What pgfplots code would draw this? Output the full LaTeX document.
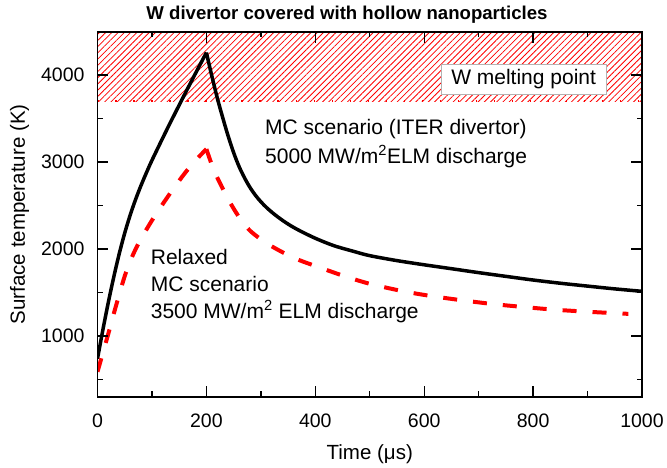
\documentclass[border=0pt]{standalone}
\usepackage{fontspec}
\setmainfont{Liberation Sans}
\usepackage{pgfplots}
\usepackage{pgfplotstable}
\pgfplotsset{compat=1.18}
\usetikzlibrary{patterns.meta}

\pgfplotstableread{
t T
0 740
10 1076
20 1392
30 1683
40 1949
50 2185
60 2391
70 2572
80 2733
90 2881
100 3021
125 3344
150 3656
175 3961
200 4260
}\mcup
\pgfplotstableread{
t T
200 4260
210 3990
222 3690
238 3340
250 3110
260 2950
270 2820
280 2710
290 2620
300 2545
311 2475
325 2400
340 2330
356 2265
372 2210
400 2125
434 2040
470 1975
500 1925
550 1868
600 1820
650 1775
700 1730
750 1687
800 1645
850 1608
900 1575
950 1543
1000 1515
}\mcdown
\pgfplotstableread{
t T
0 590
10 810
20 1030
30 1260
40 1480
50 1690
60 1860
70 2000
80 2120
100 2330
120 2520
140 2700
160 2870
180 3020
200 3150
}\relup
\pgfplotstableread{
t T
200 3150
213 2920
228 2720
244 2530
262 2350
281 2207
310 2070
342 1957
370 1875
403 1800
430 1740
458 1680
501 1600
562 1515
617 1457
672 1410
727 1368
782 1335
837 1305
895 1282
952 1263
975 1256
}\reldown

\begin{document}
\begin{tikzpicture}
\begin{axis}[
  scale only axis, width=544.5pt, height=365.3pt,
  xmin=0, xmax=1000, ymin=300, ymax=4500,
  xtick={0,200,...,1000}, ytick={1000,2000,3000,4000},
  minor xtick={100,300,...,900}, minor ytick={500,1500,2500,3500},
  tick pos=both, xticklabel pos=lower, yticklabel pos=left,
  tick align=inside,
  major tick length=11pt, minor tick length=5.5pt,
  every tick/.style={black, line width=1.4pt},
  axis line style={line width=1.8pt},
  tick label style={font=\fontsize{19.5}{23}\selectfont},
  xticklabel shift=13pt, yticklabel shift=9.5pt,
  /pgf/number format/assume math mode=true,
  /pgf/number format/set thousands separator={},
  scaled ticks=false,
  xlabel={Time (μs)}, ylabel={Surface temperature (K)},
  label style={font=\fontsize{20.5}{24}\selectfont},
  xlabel style={at={(axis description cs:0.5,0)}, anchor=base, yshift=-63pt},
  ylabel style={at={(axis description cs:-0.1332,0.5)}, anchor=base},
  title={W divertor covered with hollow nanoparticles},
  title style={font=\fontsize{18.6}{22}\selectfont\bfseries, at={(axis description cs:0.4582,1)}, anchor=base, yshift=6.2pt},
  axis on top,
  clip=true,
]
\addplot[draw=none, pattern={Lines[angle=45, distance=4.4pt, line width=0.8pt]}, pattern color=red]
  coordinates {(0,3700) (1000,3700) (1000,4500) (0,4500)} -- cycle;
\addplot[red, line width=2pt, dash pattern=on 1.5pt off 16.5pt] coordinates {(0,3700) (1000,3700)};

\node[fill=white, draw=gray!60, line width=0.9pt, inner xsep=10pt, inner ysep=5.5pt,
  font=\fontsize{21}{25}\selectfont] at (axis cs:782.6,3950) {W melting point};

\addplot[black, line width=3.5pt, smooth] table[x=t, y=T] {\mcup};
\addplot[black, line width=3.5pt, smooth] table[x=t, y=T] {\mcdown};
\addplot[red, line width=4pt, smooth, dash pattern=on 14pt off 16pt] table[x=t, y=T] {\relup};
\addplot[red, line width=4pt, smooth, dash pattern=on 14pt off 16pt] table[x=t, y=T] {\reldown};

\node[anchor=base west, inner sep=0pt, font=\fontsize{21}{25}\selectfont] at (axis cs:307.6,3320) {MC scenario (ITER divertor)};
\node[anchor=base west, inner sep=0pt, font=\fontsize{21}{25}\selectfont] at (axis cs:307.6,2987) {5000 MW/m\textsuperscript{2}ELM discharge};
\node[anchor=base west, inner sep=0pt, font=\fontsize{21}{25}\selectfont] at (axis cs:97.7,1818) {Relaxed};
\node[anchor=base west, inner sep=0pt, font=\fontsize{21}{25}\selectfont] at (axis cs:97.7,1513) {MC scenario};
\node[anchor=base west, inner sep=0pt, font=\fontsize{21}{25}\selectfont] at (axis cs:97.7,1208) {3500 MW/m\textsuperscript{2} ELM discharge};
\end{axis}
\pgfresetboundingbox
\path (current axis.south west) ++(-97.5pt,-71pt) rectangle ++(667pt,468pt);
\end{tikzpicture}
\end{document}
